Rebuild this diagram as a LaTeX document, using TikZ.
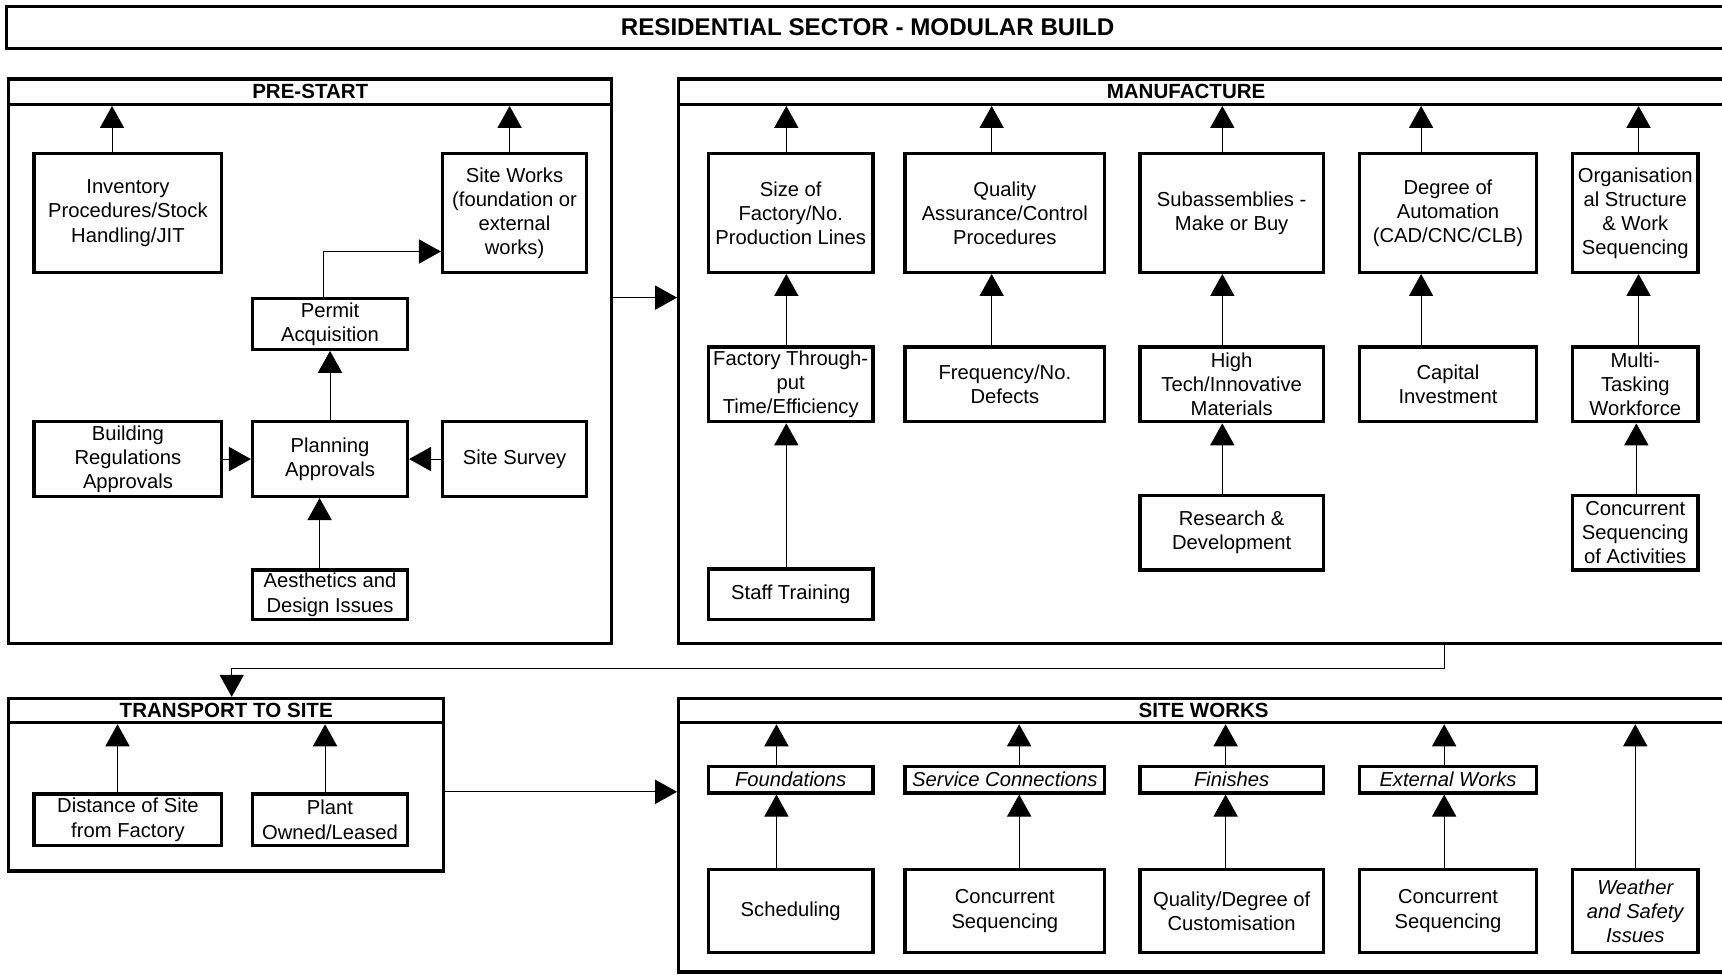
\documentclass[tikz,border=0pt]{standalone}
\usepackage{fontspec}
\setmainfont{Liberation Sans}
\usetikzlibrary{arrows.meta}

\begin{document}
\begin{tikzpicture}[x=1pt,y=-1pt,
  box/.style={draw,line width=3pt,align=center,inner sep=0pt,font=\fontsize{18.4}{22}\selectfont},
  ibox/.style={box,font=\fontsize{18.4}{22}\selectfont\itshape},
  panel/.style={draw,line width=3pt,inner sep=0pt},
  hdr/.style={draw,line width=3pt,inner sep=0pt,minimum height=23,font=\fontsize{18.7}{22}\selectfont\bfseries},
  link/.style={line width=0.9pt,-{Triangle[width=22pt,length=20pt]}}]
\clip (0,0) rectangle (1568,887);

% title
\node[hdr,minimum width=1568,minimum height=38,font=\fontsize{22}{26}\selectfont\bfseries] (title) at (790,25) {RESIDENTIAL SECTOR - MODULAR BUILD};

% pre-start
\node[panel,minimum width=549,minimum height=514] (prestart) at (282.5,329) {};
\node[hdr,minimum width=549] (pshd) at (282.5,83.5) {PRE-START};
\node[box,minimum width=171,minimum height=108] (inv) at (116.5,194) {Inventory\\Procedures/Stock\\Handling/JIT};
\node[box,minimum width=131,minimum height=108] (psw) at (468.5,194) {Site Works\\(foundation or\\external\\works)};
\node[box,minimum width=141,minimum height=46] (permit) at (300.5,295) {Permit\\Acquisition};
\node[box,minimum width=171,minimum height=68] (bldg) at (116.5,418) {Building\\Regulations\\Approvals};
\node[box,minimum width=141,minimum height=68] (plan) at (300.5,418) {Planning\\Approvals};
\node[box,minimum width=131,minimum height=68] (survey) at (468.5,418) {Site Survey};
\node[box,minimum width=141,minimum height=45] (aest) at (300.5,541.5) {Aesthetics and\\Design Issues};

\draw[link] ([xshift=-14.5pt]inv.north) -- ([xshift=-14.5pt]inv.north |- pshd.south);
\draw[link] ([xshift=-4.5pt]psw.north) -- ([xshift=-4.5pt]psw.north |- pshd.south);
\draw[link] ([xshift=-5.5pt]permit.north) |- ([yshift=-35pt]psw.west);
\draw[link] (plan.north) -- (permit.south);
\draw[link] (bldg) -- (plan);
\draw[link] (survey) -- (plan);
\draw[link] ([xshift=-9.5pt]aest.north) -- ([xshift=-9.5pt]plan.south);

% manufacture
\node[panel,minimum width=956,minimum height=514] (manuf) at (1096,329) {};
\node[hdr,minimum width=956] (mfhd) at (1096,83.5) {};
\node[font=\fontsize{18.7}{22}\selectfont\bfseries] (mftxt) at (1080,83.5) {MANUFACTURE};
\coordinate (r1) at (0,271);
\draw[link] (prestart.east |- r1) -- (manuf.west |- r1);

\node[box,minimum width=150,minimum height=108] (size) at (720,194) {Size of\\Factory/No.\\Production Lines};
\node[box,minimum width=150,minimum height=68] (thru) at (720,350) {Factory Through-\\put\\Time/Efficiency};
\node[box,minimum width=150,minimum height=46] (staff) at (720,541) {Staff Training};
\node[box,minimum width=182,minimum height=108] (qa) at (915,194) {Quality\\Assurance/Control\\Procedures};
\node[box,minimum width=182,minimum height=68] (defect) at (915,350) {Frequency/No.\\Defects};
\node[box,minimum width=167,minimum height=108] (subas) at (1121.5,194) {Subassemblies -\\Make or Buy};
\node[box,minimum width=167,minimum height=68] (tech) at (1121.5,350) {High\\Tech/Innovative\\Materials};
\node[box,minimum width=167,minimum height=68] (rnd) at (1121.5,485) {Research \&\\Development};
\node[box,minimum width=161,minimum height=108] (auto) at (1318.5,194) {Degree of\\Automation\\(CAD/CNC/CLB)};
\node[box,minimum width=161,minimum height=68] (capital) at (1318.5,350) {Capital\\Investment};
\node[box,minimum width=114,minimum height=108] (org) at (1489,194) {Organisation\\al Structure\\\& Work\\Sequencing};
\node[box,minimum width=114,minimum height=68] (multi) at (1489,350) {Multi-\\Tasking\\Workforce};
\node[box,minimum width=114,minimum height=68] (concur) at (1489,485) {Concurrent\\Sequencing\\of Activities};

\draw[link] ([xshift=-4pt]size.north) -- ([xshift=-4pt]size.north |- mfhd.south);
\draw[link] ([xshift=-4pt]thru.north) -- ([xshift=-4pt]size.south);
\draw[link] ([xshift=-4pt]staff.north) -- ([xshift=-4pt]thru.south);
\draw[link] ([xshift=-12pt]qa.north) -- ([xshift=-12pt]qa.north |- mfhd.south);
\draw[link] ([xshift=-12pt]defect.north) -- ([xshift=-12pt]qa.south);
\draw[link] ([xshift=-8.5pt]subas.north) -- ([xshift=-8.5pt]subas.north |- mfhd.south);
\draw[link] ([xshift=-8.5pt]tech.north) -- ([xshift=-8.5pt]subas.south);
\draw[link] ([xshift=-8.5pt]rnd.north) -- ([xshift=-8.5pt]tech.south);
\draw[link] ([xshift=-24.5pt]auto.north) -- ([xshift=-24.5pt]auto.north |- mfhd.south);
\draw[link] ([xshift=-24.5pt]capital.north) -- ([xshift=-24.5pt]auto.south);
\draw[link] ([xshift=3pt]org.north) -- ([xshift=3pt]org.north |- mfhd.south);
\draw[link] ([xshift=3pt]multi.north) -- ([xshift=3pt]org.south);
\draw[link] ([xshift=1pt]concur.north) -- ([xshift=1pt]multi.south);

% transport to site
\node[panel,minimum width=396,minimum height=157] (transport) at (206,714.5) {};
\node[hdr,minimum width=396,minimum height=22] (tshd) at (206,647) {TRANSPORT TO SITE};
\coordinate (bend) at (1315,609);
\draw[link] (manuf.south -| bend) -- (bend) -| ([xshift=5pt]tshd.north);

\node[box,minimum width=171,minimum height=47] (dist) at (116.5,746.5) {Distance of Site\\from Factory};
\node[box,minimum width=141,minimum height=47] (plant) at (300.5,746.5) {Plant\\Owned/Leased};
\draw[link] ([xshift=-9.5pt]dist.north) -- ([xshift=-9.5pt]dist.north |- tshd.south);
\draw[link] ([xshift=-4.5pt]plant.north) -- ([xshift=-4.5pt]plant.north |- tshd.south);

% site works
\node[panel,minimum width=956,minimum height=249] (sitew) at (1096,760.5) {};
\node[hdr,minimum width=956,minimum height=22] (swhd) at (1096,647) {SITE WORKS};
\coordinate (r2) at (0,721);
\draw[link] (transport.east |- r2) -- (sitew.west |- r2);

\node[ibox,minimum width=150,minimum height=24] (found) at (720,710) {Foundations};
\node[ibox,minimum width=182,minimum height=24] (service) at (915,710) {Service Connections};
\node[ibox,minimum width=167,minimum height=24] (finish) at (1121.5,710) {Finishes};
\node[ibox,minimum width=161,minimum height=24] (extw) at (1318.5,710) {External Works};
\node[box,minimum width=150,minimum height=75] (sched) at (720,829.5) {Scheduling};
\node[box,minimum width=182,minimum height=75] (conseq) at (915,829.5) {Concurrent\\Sequencing};
\node[box,minimum width=167,minimum height=75] (custom) at (1121.5,829.5) {Quality/Degree of\\Customisation};
\node[box,minimum width=161,minimum height=75] (conseqb) at (1318.5,829.5) {Concurrent\\Sequencing};
\node[ibox,minimum width=114,minimum height=75] (weather) at (1489,829.5) {Weather\\and Safety\\Issues};

\draw[link] ([xshift=-13pt]found.north) -- ([xshift=-13pt]found.north |- swhd.south);
\draw[link] ([xshift=-13pt]sched.north) -- ([xshift=-13pt]found.south);
\draw[link] ([xshift=13pt]service.north) -- ([xshift=13pt]service.north |- swhd.south);
\draw[link] ([xshift=13pt]conseq.north) -- ([xshift=13pt]service.south);
\draw[link] ([xshift=-5.5pt]finish.north) -- ([xshift=-5.5pt]finish.north |- swhd.south);
\draw[link] ([xshift=-5.5pt]custom.north) -- ([xshift=-5.5pt]finish.south);
\draw[link] ([xshift=-3.5pt]extw.north) -- ([xshift=-3.5pt]extw.north |- swhd.south);
\draw[link] ([xshift=-3.5pt]conseqb.north) -- ([xshift=-3.5pt]extw.south);
\draw[link] (weather.north) -- (weather.north |- swhd.south);
\end{tikzpicture}
\end{document}
